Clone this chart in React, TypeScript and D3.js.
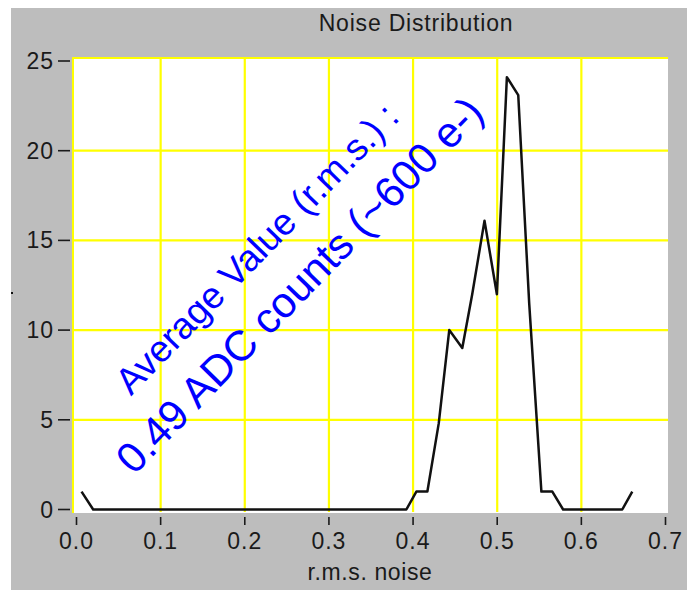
import React from "react";
import * as d3 from "d3";

// ---- data ----
const noiseX = [0.006, 0.0198, 0.392, 0.4039, 0.417, 0.4305, 0.443, 0.4585, 0.4703, 0.4849, 0.4996, 0.5115, 0.525, 0.538, 0.5525, 0.5655, 0.5783, 0.6486, 0.6605];
const counts = [1, 0, 0, 1, 1, 4.8, 10, 9, 12, 16.1, 12, 24.1, 23.1, 11.5, 1, 1, 0, 0, 1];
const xTicks = [0, 0.1, 0.2, 0.3, 0.4, 0.5, 0.6, 0.7];
const xGrid = [0.1, 0.2, 0.3, 0.4, 0.5, 0.6];
const yTicks = [0, 5, 10, 15, 20, 25];
const yGrid = [5, 10, 15, 20];
const title = "Noise Distribution";
const xTitle = "r.m.s. noise";
const note1 = "Average Value (r.m.s.) :";
const note2 = "0.49 ADC counts (~600 e-)";

const W = 691, H = 592;
const plot = { left: 72, top: 57, right: 668, bottom: 513 };

export default function App() {
  const x = d3.scaleLinear().domain([0, 0.7]).range([76.5, 665.5]);
  const y = d3.scaleLinear().domain([0, 25]).range([509.5, 61]);
  const pts = noiseX.map((v, i) => [v, counts[i]] as [number, number]);
  const line = d3.line<[number, number]>().x((d) => x(d[0])).y((d) => y(d[1]))(pts) || "";
  const axisFont = "'Liberation Sans', Arial, Helvetica, sans-serif";
  const txt = "#1a1a1a";
  return (
    <svg width={W} height={H} style={{ position: "absolute", left: 0, top: 0 }}>
      <rect x={0} y={0} width={W} height={H} fill="#ffffff" />
      <rect x={11} y={8} width={676} height={582} fill="#bdbdbd" />
      <rect x={plot.left} y={plot.top} width={plot.right - plot.left} height={plot.bottom - plot.top} fill="#ffffff" />
      {/* border lines */}
      <line x1={plot.left + 1} x2={plot.left + 1} y1={plot.top} y2={plot.bottom} stroke="#ffff00" strokeWidth={2} />
      <line x1={plot.left} x2={plot.right} y1={plot.top + 1} y2={plot.top + 1} stroke="#ffff00" strokeWidth={2} />
      {/* grid */}
      {xGrid.map((t) => (
        <line key={"gx" + t} x1={x(t)} x2={x(t)} y1={plot.top} y2={plot.bottom - 1} stroke="#ffff00" strokeWidth={2.2} />
      ))}
      {yGrid.map((t) => (
        <line key={"gy" + t} x1={plot.left} x2={plot.right} y1={y(t)} y2={y(t)} stroke="#ffff00" strokeWidth={2.2} />
      ))}
      {/* data */}
      <path d={line} fill="none" stroke="#111111" strokeWidth={2.5} strokeLinejoin="round" />
      {/* x axis ticks */}
      {xTicks.map((t) => (
        <g key={"xt" + t}>
          <line x1={x(t)} x2={x(t)} y1={517} y2={525} stroke={txt} strokeWidth={1.6} />
          <text x={x(t)} y={549} textAnchor="middle" fontFamily={axisFont} fontSize={23} letterSpacing={1} fill={txt}>
            {t.toFixed(1)}
          </text>
        </g>
      ))}
      {/* y axis ticks */}
      {yTicks.map((t) => (
        <g key={"yt" + t}>
          <line x1={58} x2={70} y1={y(t)} y2={y(t)} stroke={txt} strokeWidth={1.6} />
          <text x={54} y={y(t) + 8} textAnchor="end" fontFamily={axisFont} fontSize={23} letterSpacing={1} fill={txt}>
            {t}
          </text>
        </g>
      ))}
      <rect x={11} y={292} width={2} height={2} fill="#111" />
      <text x={416} y={30.5} textAnchor="middle" fontFamily={axisFont} fontSize={23} letterSpacing={0.8} fill={txt}>
        {title}
      </text>
      <text x={370} y={580} textAnchor="middle" fontFamily={axisFont} fontSize={23} letterSpacing={0.6} fill={txt}>
        {xTitle}
      </text>
      {/* annotation */}
      <text transform="translate(131,396.5) rotate(-45.8)" fontFamily={axisFont} fontSize={37.2} fill="#0000ff">
        {note1}
      </text>
      <text transform="translate(134,476) rotate(-45.8)" fontFamily={axisFont} fontSize={42.5} fill="#0000ff">
        {note2}
      </text>
    </svg>
  );
}
